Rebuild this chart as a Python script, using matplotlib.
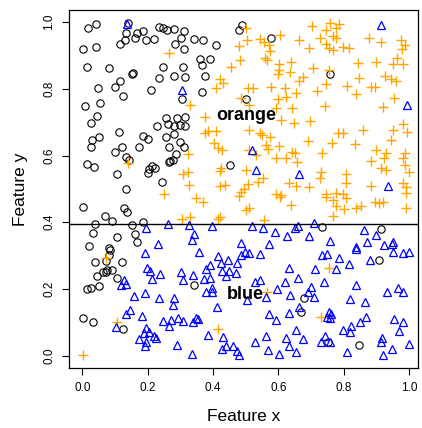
import matplotlib
matplotlib.use("Agg")
import matplotlib.pyplot as plt

plt.rcParams['font.family'] = ['Liberation Sans', 'DejaVu Sans']

# black circles
circ_x = [0.018,0.042,0.140,0.133,0.115,0.130,0.161,0.168,0.186,0.194,0.219,0.235,0.247,0.259,0.281,0.310,0.283,0.303,0.310,
          0.003,0.041,0.013,0.082,0.247,0.308,0.153,0.155,0.115,0.101,0.233,0.280,0.313,0.049,0.211,0.123,0.306,0.054,0.009,
          0.046,0.025,0.255,0.288,0.313,0.227,0.262,0.280,0.298,0.313,
          0.343,0.369,0.408,0.359,0.391,0.366,0.376,0.366,0.501,0.479,0.489,0.577,
          0.758,
          0.028,0.051,0.025,0.113,0.186,0.201,0.257,0.280,0.300,0.310,0.265,0.286,0.174,0.122,0.101,0.133,0.143,0.015,0.035,
          0.107,0.201,0.204,0.214,0.221,0.265,0.269,0.276,0.243,0.133,0.001,0.127,0.135,0.070,0.090,0.039,0.153,0.186,0.033,
          0.161,0.105,0.166,0.021,0.082,
          0.452,0.734,0.914,
          0.084,0.082,0.038,0.072,0.120,0.092,0.076,0.072,0.064,0.046,0.105,0.052,0.025,0.013,0.003,0.031,0.123,
          0.343,0.669,0.679,0.907,0.751,0.845]
circ_y = [0.984,0.994,0.998,0.967,0.934,0.946,0.954,0.967,0.974,0.947,0.950,0.985,0.982,0.976,0.979,0.974,0.934,0.952,0.920,
          0.920,0.927,0.867,0.862,0.866,0.867,0.844,0.849,0.825,0.805,0.832,0.839,0.837,0.802,0.797,0.780,0.770,0.759,0.749,
          0.719,0.699,0.712,0.712,0.717,0.690,0.694,0.690,0.692,0.690,
          0.950,0.947,0.932,0.890,0.889,0.872,0.840,0.792,0.770,0.977,0.992,0.952,
          0.844,
          0.647,0.657,0.625,0.670,0.660,0.650,0.657,0.665,0.640,0.627,0.627,0.604,0.627,0.627,0.612,0.597,0.587,0.575,0.567,
          0.544,0.547,0.560,0.570,0.564,0.580,0.585,0.587,0.522,0.499,0.447,0.442,0.430,0.420,0.404,0.395,0.391,0.400,0.367,
          0.364,0.357,0.342,0.330,0.324,
          0.572,0.386,0.380,
          0.317,0.302,0.282,0.284,0.282,0.257,0.257,0.250,0.250,0.240,0.232,0.210,0.202,0.200,0.112,0.102,0.080,
          0.212,0.130,0.174,0.287,0.040,0.032]

# orange pluses
plus_x = [0.264,
          0.501,0.504,0.479,0.544,0.555,0.570,0.606,0.664,0.574,0.483,0.455,0.560,0.564,0.601,0.603,0.638,0.636,0.598,0.674,
          0.664,0.422,0.430,0.408,0.506,0.521,0.577,0.621,0.654,0.486,0.623,0.598,0.509,0.593,0.641,0.328,0.374,0.608,0.649,
          0.703,0.758,0.785,0.775,0.744,0.726,0.768,0.777,0.746,0.754,0.766,0.797,0.815,0.693,0.878,0.914,0.975,0.988,0.978,
          0.962,0.952,0.980,0.843,0.899,0.707,0.754,0.848,0.926,0.944,0.960,0.746,0.809,0.883,0.894,0.718,0.838,0.955,0.741,
          0.921,0.695,0.980,
          0.140,0.308,0.250,0.305,
          0.374,0.384,0.408,0.511,0.544,0.550,0.574,0.404,0.415,0.428,0.511,0.530,0.562,0.567,0.601,0.591,0.623,0.641,0.652,
          0.656,0.323,0.323,0.425,0.420,0.501,0.554,0.537,0.506,0.496,0.486,0.479,0.326,0.422,0.435,0.349,0.369,0.593,0.608,
          0.605,0.638,0.511,0.501,0.330,0.420,0.415,0.557,0.633,0.654,
          0.782,0.797,0.860,0.952,0.992,0.690,0.764,0.833,0.944,0.897,0.734,0.929,0.988,0.924,0.980,0.883,0.914,0.929,0.988,
          0.998,0.807,0.731,0.726,0.807,0.693,0.883,0.980,0.990,0.990,0.746,0.744,0.775,0.797,0.807,0.766,0.777,0.802,0.836,
          0.853,0.894,0.907,0.921,0.768,0.990,
          0.072,0.105,0.001,0.565,0.415,0.756,0.731]
plus_y = [0.908,
          0.982,0.947,0.930,0.950,0.942,0.932,0.962,0.947,0.914,0.887,0.867,0.892,0.887,0.874,0.857,0.882,0.852,0.844,0.837,
          0.824,0.830,0.817,0.804,0.802,0.804,0.807,0.802,0.787,0.774,0.777,0.770,0.752,0.744,0.742,0.752,0.717,0.707,0.697,
          0.990,0.997,0.994,0.984,0.977,0.954,0.960,0.952,0.934,0.924,0.917,0.927,0.924,0.922,0.952,0.942,0.947,0.932,0.920,
          0.892,0.874,0.874,0.877,0.882,0.864,0.857,0.832,0.840,0.830,0.824,0.814,0.809,0.805,0.805,0.794,0.786,0.772,0.749,
          0.747,0.704,0.694,
          0.577,0.544,0.486,0.410,
          0.667,0.674,0.674,0.677,0.667,0.662,0.657,0.637,0.624,0.617,0.617,0.602,0.632,0.620,0.630,0.592,0.594,0.612,0.607,
          0.582,0.604,0.552,0.562,0.554,0.557,0.534,0.520,0.514,0.500,0.492,0.480,0.512,0.510,0.512,0.472,0.460,0.484,0.482,
          0.477,0.452,0.442,0.437,0.417,0.417,0.410,0.407,0.517,0.510,
          0.667,0.667,0.677,0.677,0.672,0.644,0.637,0.634,0.647,0.617,0.607,0.607,0.607,0.592,0.594,0.584,0.562,0.557,0.572,
          0.550,0.544,0.550,0.532,0.517,0.507,0.510,0.517,0.507,0.487,0.484,0.477,0.487,0.484,0.472,0.467,0.450,0.440,0.444,
          0.450,0.462,0.457,0.460,0.420,0.442,
          0.292,0.100,0.002,0.190,0.080,0.264,0.115]

# blue triangles
tri_x = [0.135,0.306,0.914,0.992,
         0.194,0.263,0.232,
         0.519,0.532,0.662,0.326,0.397,0.519,0.552,0.589,0.652,0.659,0.625,0.343,0.336,0.486,0.572,
         0.934,0.710,0.863,0.899,0.693,0.758,0.870,0.952,0.924,0.947,0.836,
         0.191,0.198,0.206,0.239,0.214,0.303,0.308,0.127,0.133,0.117,0.157,0.191,0.235,0.280,0.276,0.145,0.133,0.181,0.247,
         0.272,0.293,0.308,0.265,0.196,0.204,0.188,0.219,0.225,0.174,0.194,0.191,0.103,0.288,
         0.357,0.415,0.486,0.499,0.509,0.544,0.445,0.423,0.389,0.377,0.473,0.428,0.450,0.469,0.438,0.338,0.371,0.391,0.527,
         0.544,0.621,0.631,0.659,0.397,0.379,0.397,0.595,0.635,0.562,0.504,0.412,0.572,0.593,0.631,0.664,0.349,0.354,0.340,
         0.384,0.430,0.562,0.623,0.654,0.674,0.527,0.633,0.438,0.428,0.460,0.473,0.479,0.567,0.601,0.654,0.336,
         0.734,0.748,0.785,0.836,0.817,0.880,0.952,0.982,0.998,0.713,0.777,0.738,0.700,0.710,0.690,0.836,0.819,0.866,0.931,
         0.965,0.980,0.754,0.761,0.758,0.748,0.850,0.868,0.955,0.982,0.799,0.822,0.819,0.968,0.741,0.731,0.758,0.917,0.914,
         0.998,0.947,0.809,0.919]
tri_y = [0.994,0.797,0.992,0.752,
         0.382,0.395,0.335,
         0.617,0.557,0.545,0.392,0.389,0.389,0.384,0.372,0.382,0.389,0.360,0.364,0.347,0.337,0.334,
         0.510,0.397,0.377,0.362,0.360,0.345,0.342,0.342,0.332,0.334,0.327,
         0.307,0.264,0.254,0.244,0.230,0.252,0.227,0.227,0.214,0.212,0.180,0.187,0.174,0.174,0.152,0.137,0.124,0.120,0.104,
         0.107,0.112,0.104,0.090,0.084,0.072,0.067,0.060,0.052,0.050,0.042,0.030,0.087,0.032,
         0.310,0.300,0.302,0.310,0.307,0.304,0.287,0.277,0.272,0.260,0.277,0.254,0.254,0.247,0.240,0.242,0.230,0.232,0.222,
         0.227,0.220,0.262,0.232,0.204,0.192,0.192,0.200,0.182,0.177,0.167,0.147,0.124,0.107,0.127,0.147,0.114,0.110,0.100,
         0.062,0.057,0.060,0.052,0.077,0.050,0.042,0.030,0.030,0.020,0.030,0.014,0.002,0.017,0.004,0.010,0.004,
         0.302,0.304,0.294,0.320,0.274,0.287,0.310,0.307,0.312,0.260,0.260,0.220,0.207,0.177,0.192,0.212,0.170,0.160,0.190,
         0.202,0.190,0.130,0.124,0.112,0.117,0.102,0.117,0.110,0.102,0.077,0.090,0.070,0.074,0.060,0.040,0.040,0.052,0.040,
         0.034,0.020,0.010,0.002]

split_y = 0.395
labels = ["orange", "blue"]
label_pos = [(0.5, 0.72), (0.5, 0.184)]
ticks = [0.0, 0.2, 0.4, 0.6, 0.8, 1.0]
tick_labels = ["0.0", "0.2", "0.4", "0.6", "0.8", "1.0"]

fig = plt.figure(figsize=(4.22, 4.28), dpi=100)
ax = fig.add_axes([0.1635, 0.1395, 0.9905 - 0.1635, 0.977 - 0.1395])

ax.plot(circ_x, circ_y, linestyle='none', marker='o', ms=5.3, mfc='none', mec='black', mew=0.8)
ax.plot(plus_x, plus_y, linestyle='none', marker='+', ms=7, mec='#FFA500', mew=1.0)
ax.plot(tri_x, tri_y, linestyle='none', marker='^', ms=6, mfc='none', mec='#0000FF', mew=0.9)
ax.axhline(split_y, color='black', lw=1.0)

for txt, (tx, ty) in zip(labels, label_pos):
    ax.text(tx, ty, txt, ha='center', va='center', fontsize=13, fontweight='bold', color='black')

ax.set_xlim(-0.041, 1.027)
ax.set_ylim(-0.038, 1.037)
ax.set_xticks(ticks)
ax.set_xticklabels(tick_labels)
ax.set_yticks(ticks)
ax.set_yticklabels(tick_labels, rotation=90, va='center')
ax.tick_params(axis='both', direction='out', length=5, width=0.8, labelsize=8.5, pad=5, color='black')
for s in ax.spines.values():
    s.set_linewidth(0.9)
    s.set_color('black')
ax.set_xlabel("Feature x", fontsize=12.5, labelpad=11)
ax.set_ylabel("Feature y", fontsize=12.5, labelpad=11)

fig.savefig("out.png", dpi=100)
